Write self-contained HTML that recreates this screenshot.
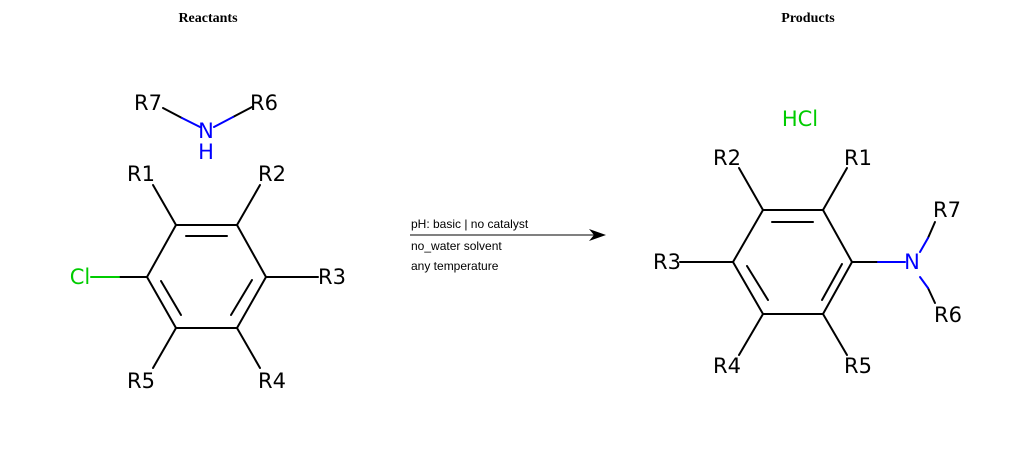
<!DOCTYPE html>
<html><head><meta charset="utf-8"><style>
html,body{margin:0;padding:0;background:#fff;width:1024px;height:450px;overflow:hidden}
svg text{font-family:"DejaVu Sans","Liberation Sans",sans-serif;font-size:21px}
</style></head><body>
<svg width="1024" height="450" viewBox="0 0 1024 450" xmlns="http://www.w3.org/2000/svg">
<g stroke="#000" stroke-width="2" fill="none" stroke-linecap="round">
<path d="M176,225 L237,225 L266,277 L237,328 L176,328 L147,277 Z"/>
<line x1="186" y1="236" x2="227" y2="236"/>
<line x1="252" y1="280" x2="231" y2="315"/>
<line x1="161" y1="281" x2="181" y2="315"/>
<line x1="176" y1="225" x2="153" y2="185"/>
<line x1="237" y1="225" x2="260" y2="185"/>
<line x1="266" y1="277" x2="318" y2="277"/>
<line x1="147" y1="277" x2="119" y2="277"/>
<line x1="176" y1="328" x2="153" y2="368"/>
<line x1="237" y1="328" x2="260" y2="368"/>
<line x1="163" y1="108" x2="182" y2="118"/>
<line x1="233" y1="117" x2="252" y2="107"/>
<path d="M763,210 L823,210 L852,262 L823,314 L763,314 L733,262 Z"/>
<line x1="772" y1="222" x2="813" y2="222"/>
<line x1="747" y1="266" x2="768" y2="300"/>
<line x1="842" y1="264" x2="822" y2="300"/>
<line x1="763" y1="210" x2="739" y2="168"/>
<line x1="823" y1="210" x2="847" y2="168"/>
<line x1="733" y1="262" x2="680" y2="262"/>
<line x1="852" y1="262" x2="878" y2="262"/>
<line x1="928" y1="238" x2="935" y2="222"/>
<line x1="928" y1="288" x2="935" y2="303"/>
<line x1="763" y1="314" x2="739" y2="355"/>
<line x1="823" y1="314" x2="847" y2="355"/>
</g>
<g stroke-width="2" stroke-linecap="round">
<line x1="119" y1="277" x2="91" y2="277" stroke="#00cc00"/>
<line x1="182" y1="118" x2="200" y2="127" stroke="#0000ff"/>
<line x1="214" y1="127" x2="233" y2="117" stroke="#0000ff"/>
<line x1="878" y1="262" x2="905" y2="262" stroke="#0000ff"/>
<line x1="920" y1="252" x2="928" y2="238" stroke="#0000ff"/>
<line x1="920" y1="277" x2="928" y2="288" stroke="#0000ff"/>
</g>
<g fill="#000" text-anchor="middle" dominant-baseline="central">
<text x="148" y="103">R7</text>
<text x="264" y="103">R6</text>
<text x="206" y="131" fill="#0000ff">N</text>
<text x="206" y="152" fill="#0000ff">H</text>
<text x="141" y="174">R1</text>
<text x="272" y="174">R2</text>
<text x="332" y="277">R3</text>
<text x="80" y="277" fill="#00cc00">Cl</text>
<text x="141" y="381">R5</text>
<text x="272" y="381">R4</text>
<text x="800" y="119" fill="#00cc00">HCl</text>
<text x="727" y="158">R2</text>
<text x="858" y="158">R1</text>
<text x="667" y="262">R3</text>
<text x="912" y="262" fill="#0000ff">N</text>
<text x="947" y="210">R7</text>
<text x="948" y="315">R6</text>
<text x="727" y="366">R4</text>
<text x="858" y="366">R5</text>
</g>
<text x="208" y="22" text-anchor="middle" style="font-family:'Liberation Serif',serif;font-weight:bold;font-size:14px">Reactants</text>
<text x="808" y="22" text-anchor="middle" style="font-family:'Liberation Serif',serif;font-weight:bold;font-size:14px">Products</text>
<line x1="410" y1="235" x2="595" y2="235" stroke="#000" stroke-width="1"/>
<path d="M606,235 L589,229 L594,235 L589,241 Z" fill="#000"/>
<text x="411" y="228" style="font-family:'Liberation Sans',sans-serif;font-size:12px">pH: basic | no catalyst</text>
<text x="411" y="250" style="font-family:'Liberation Sans',sans-serif;font-size:12px">no_water solvent</text>
<text x="411" y="270" style="font-family:'Liberation Sans',sans-serif;font-size:12px">any temperature</text>
</svg>
</body></html>
